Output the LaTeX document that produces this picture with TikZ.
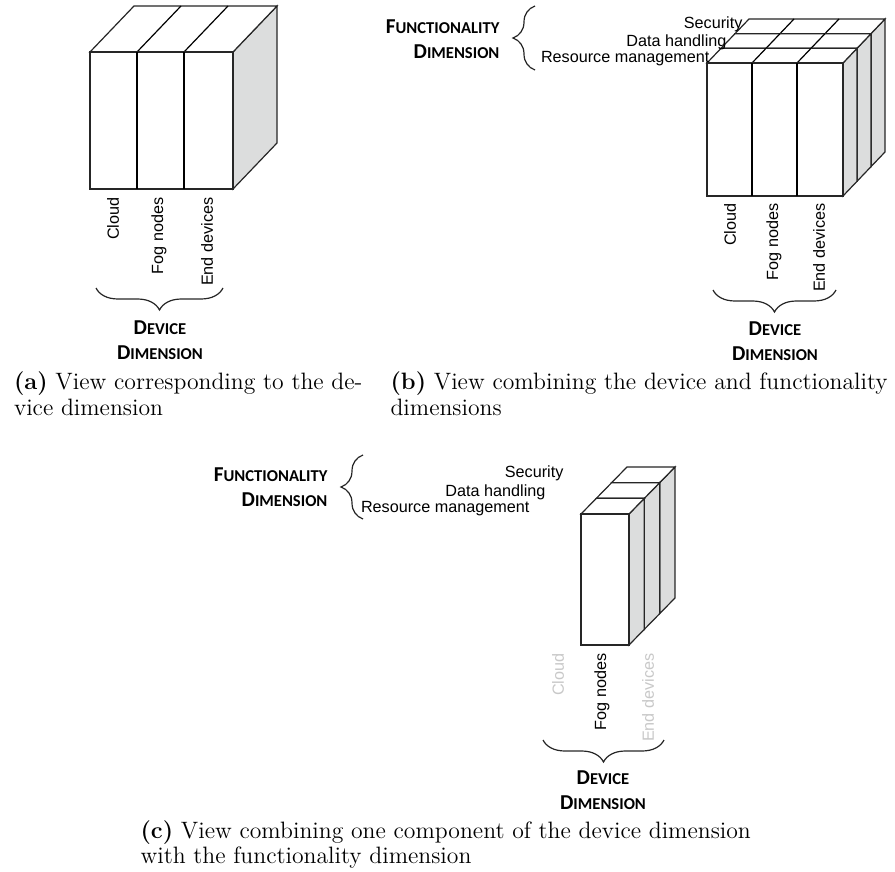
\documentclass[tikz,border=0pt]{standalone}
\usepackage{fontspec}
\newfontfamily\arialfont{Liberation Sans}
\newfontfamily\calfont{Carlito}
\usepackage{tikz}
\usetikzlibrary{decorations.pathreplacing}
\usetikzlibrary{positioning}
\definecolor{sidegray}{HTML}{DCDDDD}
\definecolor{fadegray}{HTML}{C8C8C8}
\newcommand{\smc}[2]{{\fontsize{10.6}{12.5}\selectfont #1\fontsize{8.3}{12.5}\selectfont #2}}

\begin{document}
\begin{tikzpicture}[x=0.5pt,y=-0.5pt,line width=0.6pt,inner sep=0pt]
\tikzstyle{face}=[draw=black!85,fill=white]
\tikzstyle{side}=[draw=black!85,fill=sidegray]
\tikzstyle{item}=[font=\arialfont\fontsize{8.1}{10}\selectfont]
\tikzstyle{dev}=[item,rotate=90,anchor=east]
\tikzstyle{dim}=[font=\calfont\bfseries\fontsize{10.6}{12.5}\selectfont,align=center]
\tikzstyle{captext}=[font=\fontsize{11.85}{13}\selectfont,anchor=base west]
\tikzstyle{curly}=[draw=black!85,decorate,decoration={brace,amplitude=11pt}]
\useasboundingbox (0,0) rectangle (895,872);

% (a) device dimension
\filldraw[side] (233,52) -- (277,6) -- (277,143) -- (233,189) -- cycle;
\filldraw[face] (90,52) -- (134,6) -- (277,6) -- (233,52) -- cycle;
\foreach \x in {137,184} \draw (\x,52) -- (\x+44,6);
\filldraw[face] (90,52) rectangle (233,189);
\foreach \x in {137,184} \draw (\x,52) -- (\x,189);
\node[dev] (a1) at (113,197) {Cloud};
\node[dev] (a2) at (159,197) {Fog nodes};
\node[dev] (a3) at (207,197) {End devices};
\coordinate (ab1) at (223,288);
\coordinate (ab2) at (96,288);
\draw[curly] (ab1) -- (ab2);
\node[dim] (ad) at (160,340.5) {\smc{D}{EVICE}\\\smc{D}{IMENSION}};
\node[captext,anchor=base east] (ac1) at (363,389) {\textbf{(a)} View corresponding to the de-};
\node[captext] (ac2) at ([yshift=-13pt]ac1.base west) {vice dimension};

% (b) device and functionality
\foreach \k in {2,1,0} {
  \begin{scope}[shift={(14*\k,-14.67*\k)}]
    \filldraw[side] (843,63) -- (857,48.33) -- (857,181.33) -- (843,196) -- cycle;
    \filldraw[face] (707,63) -- (721,48.33) -- (857,48.33) -- (843,63) -- cycle;
    \foreach \x in {752,797} \draw (\x,63) -- (\x+14,48.33);
    \filldraw[face] (707,63) rectangle (843,196);
    \foreach \x in {752,797} \draw (\x,63) -- (\x,196);
  \end{scope}
}
\node[item,anchor=base east] (b4) at (743,29) {Security};
\node[item,anchor=base east] (b5) at (727,47) {Data handling};
\node[item,anchor=base east] (b6) at (710,63) {Resource management};
\coordinate (bf1) at (535,70);
\coordinate (bf2) at (535,6);
\draw[curly] (bf1) -- (bf2);
\node[dim,align=right,anchor=east] (bf) at (500,39.5) {\smc{F}{UNCTIONALITY}\\\smc{D}{IMENSION}};
\node[dev] (b1) at (730,203) {Cloud};
\node[dev] (b2) at (774,203) {Fog nodes};
\node[dev] (b3) at (819,203) {End devices};
\coordinate (bb1) at (836,290);
\coordinate (bb2) at (713,290);
\draw[curly] (bb1) -- (bb2);
\node[dim] (bd) at (775,341.5) {\smc{D}{EVICE}\\\smc{D}{IMENSION}};
\node[captext] (bc1) at (390,389) {\textbf{(b)} View combining the device and functionality};
\node[captext] (bc2) at ([yshift=-13pt]bc1.base west) {dimensions};

% (c) one device component with functionality
\foreach \k in {2,1,0} {
  \begin{scope}[shift={(15.33*\k,-15.67*\k)}]
    \filldraw[side] (629,514) -- (644.33,498.33) -- (644.33,629.33) -- (629,645) -- cycle;
    \filldraw[face] (581,514) -- (596.33,498.33) -- (644.33,498.33) -- (629,514) -- cycle;
    \filldraw[face] (581,514) rectangle (629,645);
  \end{scope}
}
\node[item,anchor=base east] (c4) at (564,477) {Security};
\node[item,anchor=base east] (c5) at (546,496) {Data handling};
\node[item,anchor=base east] (c6) at (530,512) {Resource management};
\coordinate (cf1) at (363,519);
\coordinate (cf2) at (363,455);
\draw[curly] (cf1) -- (cf2);
\node[dim,align=right,anchor=east] (cf) at (328,487.5) {\smc{F}{UNCTIONALITY}\\\smc{D}{IMENSION}};
\node[dev,text=fadegray] (c1) at (558,653) {Cloud};
\node[dev] (c2) at (602,653) {Fog nodes};
\node[dev,text=fadegray] (c3) at (648,653) {End devices};
\coordinate (cb1) at (664,740);
\coordinate (cb2) at (543,740);
\draw[curly] (cb1) -- (cb2);
\node[dim] (cd) at (603,790.5) {\smc{D}{EVICE}\\\smc{D}{IMENSION}};
\node[captext] (cc1) at (140,838) {\textbf{(c)} View combining one component of the device dimension};
\node[captext] (cc2) at ([yshift=-12.5pt]cc1.base west) {with the functionality dimension};
\end{tikzpicture}
\end{document}
